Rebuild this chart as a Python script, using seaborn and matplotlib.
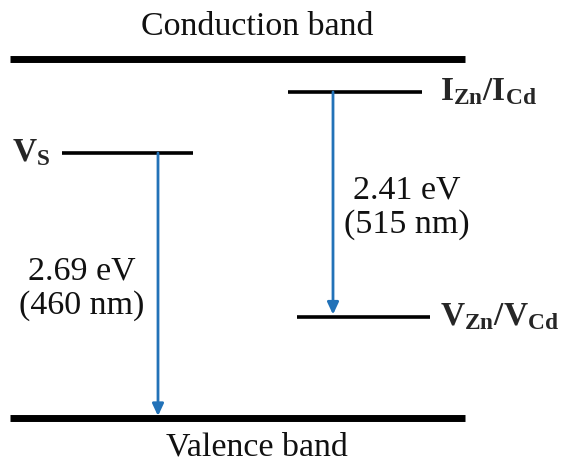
import pandas as pd
import matplotlib.pyplot as plt
import seaborn as sns

sns.set_theme(style="white")
plt.rcParams['font.family'] = ['Liberation Serif', 'DejaVu Serif']
plt.rcParams['mathtext.fontset'] = 'custom'
plt.rcParams['mathtext.rm'] = 'Liberation Serif'
plt.rcParams['mathtext.bf'] = 'Liberation Serif:bold'

# energy levels (arbitrary eV scale, valence band = 0)
band_names = ['Conduction band', 'Valence band']
band_energy = [3.64, 0.0]

defect_names = ['V_S', 'I_Zn/I_Cd', 'V_Zn/V_Cd']
defect_energy = [2.69, 3.31, 1.03]

transitions = [('V_S', 'Valence band'), ('I_Zn/I_Cd', 'V_Zn/V_Cd')]
gap_labels = ['2.69 eV\n(460 nm)', '2.41 eV\n(515 nm)']

energy = dict(zip(band_names + defect_names, band_energy + defect_energy))

# layout (pixel-like x, energy y)
band_x = (10, 465)
defect_x = {'V_S': (62, 193), 'I_Zn/I_Cd': (288, 422), 'V_Zn/V_Cd': (297, 430)}
arrow_x = [158, 333]
label_x = [82, 407]
px_per_ev = 98.5

fig = plt.figure(figsize=(5.61, 4.61), dpi=100)
ax = fig.add_axes([0, 0, 1, 1])

rows = []
for n in band_names:
    rows += [{'level': n, 'x': band_x[0], 'E': energy[n]}, {'level': n, 'x': band_x[1], 'E': energy[n]}]
df_band = pd.DataFrame(rows)
rows = []
for n in defect_names:
    rows += [{'level': n, 'x': defect_x[n][0], 'E': energy[n]}, {'level': n, 'x': defect_x[n][1], 'E': energy[n]}]
df_def = pd.DataFrame(rows)

sns.lineplot(data=df_band, x='x', y='E', units='level', estimator=None, color='black', lw=5,
             solid_capstyle='butt', ax=ax)
sns.lineplot(data=df_def, x='x', y='E', units='level', estimator=None, color='black', lw=2.6,
             solid_capstyle='butt', ax=ax)

for (src, dst), xa, lab, xl in zip(transitions, arrow_x, gap_labels, label_x):
    ax.annotate('', xy=(xa, energy[dst] + 0.02), xytext=(xa, energy[src]),
                arrowprops=dict(arrowstyle='-|>,head_length=0.6,head_width=0.28', color='#2272b8',
                                lw=2, shrinkA=0, shrinkB=0))
    mid = (energy[src] + energy[dst]) / 2
    ax.text(xl, mid - 0.03, lab, ha='center', va='center', fontsize=24.5, linespacing=1.15,
            color='#111111')

ax.text(257, energy['Conduction band'] + 33 / px_per_ev, 'Conduction band', ha='center', va='center',
        fontsize=24.5, color='#111111')
ax.text(257, energy['Valence band'] - 29 / px_per_ev, 'Valence band', ha='center', va='center',
        fontsize=24.5, color='#111111')

ax.text(12, energy['V_S'], r'$\mathbf{V_S}$', ha='left', va='center', fontsize=24)
ax.text(440, energy['I_Zn/I_Cd'], r'$\mathbf{I_{Zn}/I_{Cd}}$', ha='left', va='center', fontsize=24)
ax.text(440, energy['V_Zn/V_Cd'], r'$\mathbf{V_{Zn}/V_{Cd}}$', ha='left', va='center', fontsize=24)

ax.set_xlim(0, 561)
ax.set_ylim(-43 / px_per_ev, 418 / px_per_ev)
ax.axis('off')
if ax.get_legend():
    ax.get_legend().remove()

fig.savefig('out.png', dpi=100)
